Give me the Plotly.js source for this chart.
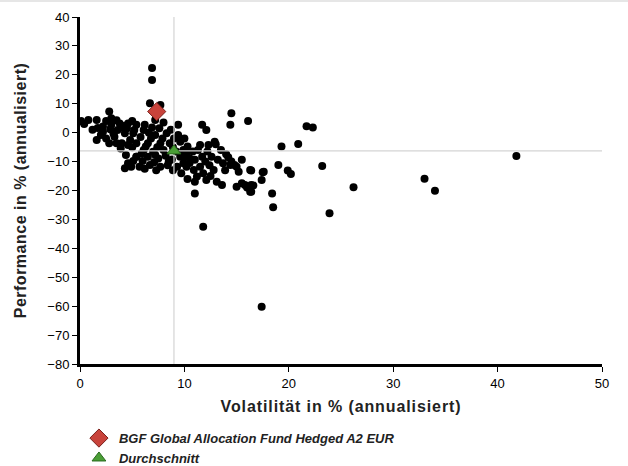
<!DOCTYPE html>
<html>
<head>
<meta charset="utf-8">
<script src="https://cdn.plot.ly/plotly-3.0.1.min.js"></script>
<style>
html,body{margin:0;padding:0;background:#fff;}
#topbar{position:absolute;left:0;top:0;width:628px;height:2px;background:#e6e6e6;z-index:5;}
#chart{width:628px;height:466px;}
.xtitle{letter-spacing:0.9px;}
.ytitle{letter-spacing:0.5px;}
</style>
</head>
<body>
<div id="topbar"></div>
<div id="chart"></div>
<script>
// Peer funds: volatility (x, %) and performance (y, %), annualised
const peerVol = [
 6.9, 6.9, 6.7, 7.7, 0.1, 0.8, 1.6, 0.4,
 2.8, 2.2, 1.7, 3.0, 3.8, 4.6, 1.6, 2.5, 3.3, 2.8, 4.0, 4.4, 4.6, 4.9, 5.4, 3.6, 4.3, 5.2, 2.2, 3.5,
 5.4, 6.2, 7.2, 5.1, 6.1, 7.2, 8.3, 9.4, 9.4, 5.4, 6.5, 7.7, 8.0, 5.4, 6.5, 7.5, 8.5, 9.6, 9.9, 5.7, 6.7, 7.7, 9.3, 9.6, 8.6, 6.1, 7.0,
 4.5, 5.8, 6.8, 4.8, 5.0, 6.3, 7.4, 8.9, 3.2, 2.9, 4.0, 7.6, 8.0, 6.6, 7.9, 9.0, 8.2, 8.8, 6.0, 7.1, 5.1, 3.9, 4.6, 6.9, 8.7, 2.0, 3.5, 4.2, 9.2, 9.9, 10.2, 5.9, 7.2, 8.4, 6.2, 7.3, 8.9, 4.3, 5.0, 3.0, 2.5, 1.2,
 10.3, 11.5, 12.3, 12.9, 9.9, 10.5, 11.0, 11.7, 12.0, 12.6, 13.2, 13.7, 14.4, 15.0, 10.2, 10.9, 11.5, 12.8, 11.2, 11.0, 12.1, 9.7, 13.1, 13.6, 15.0, 15.8, 16.3, 17.4, 11.0, 11.8, 17.4,
 14.5, 14.4, 16.1, 11.7, 12.1, 21.7, 22.3, 20.9, 19.3, 41.8, 19.0, 23.2, 16.4, 17.5, 19.9, 20.2, 16.4, 16.4, 18.4, 18.5, 26.2, 23.9, 33.0, 34.0,
 15.5, 14.5, 14.8, 15.2, 16.3, 17.6, 15.5, 16.0, 16.6,
 10.0, 10.8, 11.3, 12.2, 13.5, 13.0, 14.0, 10.5, 12.4, 13.9, 14.2, 11.8, 12.5, 10.3
];
const peerPerf = [
 22.4, 18.2, 10.2, 9.6, 4.0, 4.4, 4.4, 3.0,
 7.3, 2.1, 1.6, 2.7, 3.2, 3.2, -2.5, -2.0, -1.4, -3.7, -3.7, -7.7, -10.6, -11.8, -8.3, 0.9, -0.2, 0.9, 0.3, -3.7,
 2.7, 2.7, 4.4, -0.2, 0.9, -0.8, -0.2, 2.7, -0.8, -3.7, -3.7, -3.7, -6.0, -8.3, -8.3, -8.9, -10.0, -8.3, -10.6, -11.8, -11.2, -11.8, -11.8, -3.1, -3.7, -6.0, -6.6,
 1.5, -1.5, -2.0, -2.5, -5.0, -4.8, -5.0, -5.0, -0.3, 1.2, 1.8, 1.5, 3.5, 0.0, -2.0, -2.0, -8.0, -9.3, -9.8, -10.2, -9.8, -5.5, -4.3, 1.8, 1.0, -0.8, 4.3, 2.3, -6.5, -6.0, -7.0, -7.2, -7.6, -11.3, -12.5, -13.0, -13.0, -12.3, 4.0, 5.0, 4.0, 1.0,
 -4.8, -4.3, -4.3, -3.1, -8.3, -8.9, -9.4, -8.3, -10.0, -8.3, -9.4, -10.6, -11.2, -11.8, -11.8, -12.9, -11.8, -12.9, -15.2, -17.0, -16.4, -14.0, -17.0, -18.1, -18.7, -18.1, -20.4, -16.4, -21.0, -32.5, -60.2,
 6.7, 2.7, 4.0, 2.7, 0.9, 2.2, 1.8, -3.9, -4.8, -8.1, -11.2, -11.5, -13.1, -13.7, -13.1, -14.3, -18.1, -20.4, -21.0, -25.8, -18.9, -27.9, -15.9, -20.1,
 -9.4, -10.0, -11.2, -13.5, -12.9, -13.5, -17.5, -19.0, -18.3,
 -2.0, -6.5, -6.0, -6.5, -6.0, -4.0, -7.5, -10.5, -11.3, -13.0, -8.5, -14.0, -15.0, -16.0
];
const fundName = 'BGF Global Allocation Fund Hedged A2 EUR';
const fundVol = [7.35];
const fundPerf = [7.3];
const avgName = 'Durchschnitt';
const avgVol = [9.0];
const avgPerf = [-6.3];
const xRange = [0, 50];
const yRange = [-80, 40];
const xTicks = [0, 10, 20, 30, 40, 50];
const yTicks = [40, 30, 20, 10, 0, -10, -20, -30, -40, -50, -60, -70, -80];
const xTitle = 'Volatilität in % (annualisiert)';
const yTitle = 'Performance in % (annualisiert)';

const traces = [
  {x: peerVol, y: peerPerf, type: 'scatter', mode: 'markers', showlegend: false, hoverinfo: 'skip',
   marker: {color: '#000', size: 8, line: {width: 0}}},
  {x: [avgVol[0], avgVol[0]], y: yRange, type: 'scatter', mode: 'lines', showlegend: false, hoverinfo: 'skip',
   line: {color: '#d4d4d4', width: 1.2}},
  {x: xRange, y: [avgPerf[0], avgPerf[0]], type: 'scatter', mode: 'lines', showlegend: false, hoverinfo: 'skip',
   line: {color: '#d4d4d4', width: 1.2}},
  {x: fundVol, y: fundPerf, name: fundName, type: 'scatter', mode: 'markers',
   marker: {symbol: 'diamond', color: '#c8433b', size: 14, line: {color: '#7a1f1a', width: 1}}},
  {x: avgVol, y: avgPerf, name: avgName, type: 'scatter', mode: 'markers',
   marker: {symbol: 'triangle-up', color: '#4a9e36', size: 12, line: {color: '#2a6a1e', width: 1}}}
];

const tickFont = {family: 'Liberation Sans, Arial, sans-serif', size: 13, color: '#000'};
const titleFont = {family: 'Liberation Sans, Arial, sans-serif', size: 16, color: '#222', weight: 'bold'};
const layout = {
  width: 628, height: 466,
  margin: {l: 80, r: 26, t: 17, b: 102},
  paper_bgcolor: '#fff', plot_bgcolor: '#fff',
  xaxis: {range: xRange, tickvals: xTicks, ticks: 'outside', ticklen: 5, tickwidth: 1, tickcolor: '#000',
    showgrid: false, zeroline: false, showline: true, linecolor: '#000', linewidth: 3,
    tickfont: tickFont, fixedrange: true,
    title: {text: xTitle, font: titleFont, standoff: 12}},
  yaxis: {range: yRange, tickvals: yTicks, ticks: 'outside', ticklen: 5, tickwidth: 1, tickcolor: '#000',
    showgrid: false, zeroline: false, showline: true, linecolor: '#000', linewidth: 3,
    tickfont: tickFont, fixedrange: true,
    title: {text: yTitle, font: titleFont, standoff: 17}},
  showlegend: true,
  legend: {x: -0.002, xref: 'paper', xanchor: 'left', y: 0.092, yref: 'container', yanchor: 'top',
    orientation: 'v', bgcolor: 'rgba(0,0,0,0)', tracegroupgap: 0, itemwidth: 30,
    font: {family: 'Liberation Sans, Arial, sans-serif', size: 13, color: '#222', weight: 'bold', style: 'italic'}}
};

Plotly.newPlot('chart', traces, layout, {displayModeBar: false, staticPlot: true});
</script>
</body>
</html>
